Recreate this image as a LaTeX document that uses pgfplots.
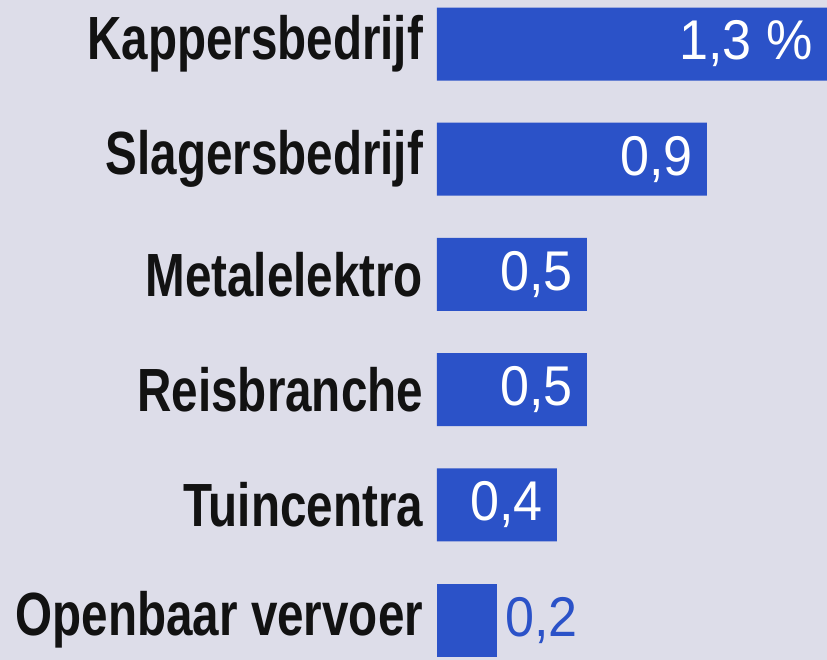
\documentclass[border=0pt]{standalone}
\usepackage{fontspec}
\setmainfont{Liberation Sans}
\newfontfamily\labfont[FakeStretch=0.78]{Liberation Sans}
\newfontfamily\numfont[FakeStretch=0.93]{Liberation Sans}
\usepackage{pgfplots}
\pgfplotsset{compat=1.18}
\definecolor{bg}{HTML}{DDDDE9}
\definecolor{barblue}{HTML}{2B52C8}
\begin{document}
\begin{tikzpicture}
\fill[bg] (0,0) rectangle (413.5pt,330pt);
\useasboundingbox (0,0) rectangle (413.5pt,330pt);
\begin{axis}[
 at={(218.5pt,0pt)}, anchor=south west,
 scale only axis, width=195pt, height=330pt,
 xmin=0, xmax=1.3, ymin=-0.382, ymax=5.347, y dir=reverse,
 xbar, bar width=36.5pt, bar shift=0pt,
 axis line style={draw=none}, tick style={draw=none},
 xtick=\empty, ytick={0,...,5},
 yticklabels={Kappersbedrijf,Slagersbedrijf,Metalelektro,Reisbranche,Tuincentra,Openbaar vervoer},
 yticklabel style={font=\labfont\bfseries\fontsize{30.5}{30.5}\selectfont, text=black!93, inner sep=0pt, xshift=-2.5pt},
 point meta=explicit symbolic,
 nodes near coords,
 clip=false,
]
\addplot[fill=barblue, draw=none, nodes near coords style={anchor=east, xshift=-7pt, text=white, font=\numfont\fontsize{28}{28}\selectfont, inner sep=0pt}]
 coordinates {(1.3,0) [{1,3 \%}] (0.9,1) [{0,9}] (0.5,2) [{0,5}] (0.5,3) [{0,5}] (0.4,4) [{0,4}]};
\addplot[fill=barblue, draw=none, nodes near coords style={anchor=west, xshift=4pt, text=barblue, font=\numfont\fontsize{28}{28}\selectfont, inner sep=0pt}]
 coordinates {(0.2,5) [{0,2}]};
\end{axis}
\end{tikzpicture}
\end{document}
